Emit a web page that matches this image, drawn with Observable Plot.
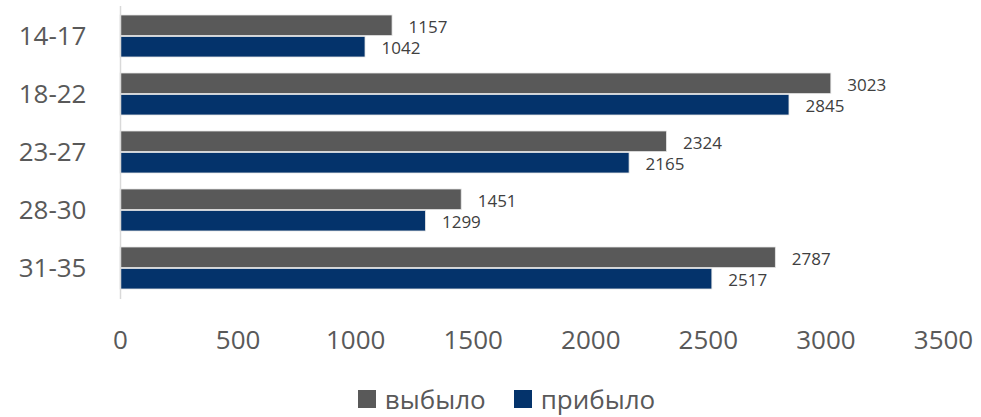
<!DOCTYPE html>
<html>
<head>
<meta charset="utf-8">
<script src="https://cdn.jsdelivr.net/npm/d3@7"></script>
<script src="https://cdn.jsdelivr.net/npm/@observablehq/plot@0.6"></script>
<style>
  html, body { margin: 0; padding: 0; background: #fff; }
  #legend { display: flex; justify-content: center; align-items: center; height: 37px; padding-left: 32px;
    font-family: "Open Sans", sans-serif; font-size: 26px; color: #595959; }
  .item { display: flex; align-items: center; margin: 0 14px; }
  .sw { width: 18px; height: 18px; margin-right: 9px; }
</style>
</head>
<body>
<div id="chart"></div>
<div id="legend"></div>
<script>
const categories = ["14-17", "18-22", "23-27", "28-30", "31-35"];
const seriesNames = ["выбыло", "прибыло"];
const vybylo = [1157, 3023, 2324, 1451, 2787];
const pribylo = [1042, 2845, 2165, 1299, 2517];
const xTicks = [0, 500, 1000, 1500, 2000, 2500, 3000, 3500];
const colors = ["#595959", "#04336b"];

const out = categories.map((c, i) => ({category: c, value: vybylo[i]}));
const inn = categories.map((c, i) => ({category: c, value: pribylo[i]}));

const chart = Plot.plot({
  width: 981,
  height: 380,
  marginLeft: 120,
  marginRight: 38,
  marginTop: 6,
  marginBottom: 81,
  style: {fontFamily: "Open Sans", fontSize: "26px", color: "#595959", background: "#fff"},
  x: {domain: [0, 3500], ticks: xTicks, tickFormat: d => String(d), tickSize: 0, tickPadding: 31, label: null},
  y: {domain: categories, paddingInner: 0.27, paddingOuter: 0.135, tickSize: 0, tickPadding: 34, label: null},
  marks: [
    Plot.barX(out, {y: "category", x: "value", fill: colors[0], stroke: "#e6e6e6", strokeWidth: 0.8, insetBottom: 21.4}),
    Plot.barX(inn, {y: "category", x: "value", fill: colors[1], stroke: "#e6e6e6", strokeWidth: 0.8, insetTop: 21.4}),
    Plot.text(out, {y: "category", x: "value", text: d => String(d.value), dx: 16, dy: -9, textAnchor: "start", fontSize: 17, fill: "#404040"}),
    Plot.text(inn, {y: "category", x: "value", text: d => String(d.value), dx: 16, dy: 12, textAnchor: "start", fontSize: 17, fill: "#404040"}),
    Plot.ruleX([0], {stroke: "#d9d9d9", strokeWidth: 1.5})
  ]
});
document.getElementById("chart").appendChild(chart);

const legend = document.getElementById("legend");
seriesNames.forEach((name, i) => {
  const it = document.createElement("div");
  it.className = "item";
  const sw = document.createElement("span");
  sw.className = "sw";
  sw.style.background = colors[i];
  const t = document.createElement("span");
  t.textContent = name;
  it.appendChild(sw);
  it.appendChild(t);
  legend.appendChild(it);
});
</script>
</body>
</html>
